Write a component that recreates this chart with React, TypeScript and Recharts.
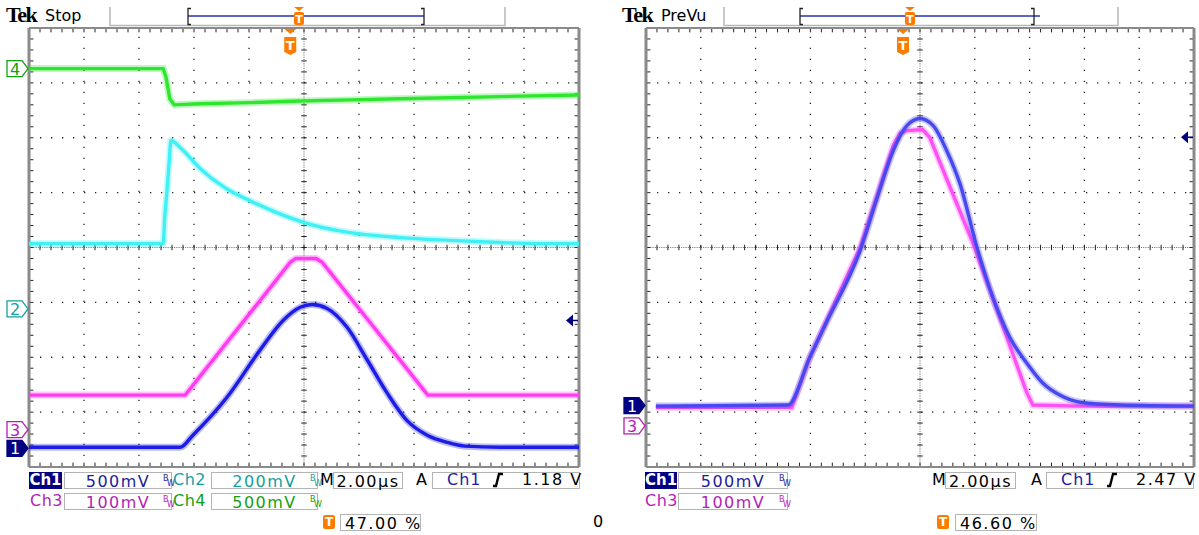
import React from "react";
import { LineChart, Line, XAxis, YAxis, ReferenceLine, ReferenceDot } from "recharts";

// all values in screen divisions: time 0..10 across, level -4..4 from centre line

// left screen (Tek Stop)
const leftCh4Time = [0, 2.44, 2.49, 2.56, 2.64, 3.11, 4.02, 4.93, 5.84, 6.75, 7.65, 8.56, 10];
const leftCh4Level = [3.26, 3.26, 3.11, 2.71, 2.6, 2.62, 2.64, 2.67, 2.69, 2.71, 2.73, 2.75, 2.78];

const leftCh2Time = [0, 2.44, 2.47, 2.51, 2.55, 2.58, 2.75, 3.11, 3.56, 4.02, 4.47, 5.02, 5.84, 6.75, 7.65, 8.56, 9.29, 10];
const leftCh2Level = [0.07, 0.07, 0.58, 1.04, 1.58, 1.95, 1.82, 1.44, 1.09, 0.85, 0.65, 0.45, 0.27, 0.18, 0.13, 0.09, 0.07, 0.07];

const leftCh3Time = [0, 2.84, 4.75, 4.85, 5.22, 5.33, 7.25, 10];
const leftCh3Level = [-2.69, -2.69, -0.27, -0.2, -0.2, -0.27, -2.69, -2.69];

const leftCh1Time = [0, 2.75, 2.98, 3.6, 4.2, 4.62, 4.93, 5.15, 5.42, 5.78, 6.15, 6.51, 6.87, 7.24, 7.6, 7.93, 8.56, 10];
const leftCh1Level = [-3.64, -3.64, -3.42, -2.73, -1.87, -1.33, -1.09, -1.04, -1.11, -1.45, -2.05, -2.65, -3.15, -3.42, -3.55, -3.62, -3.64, -3.64];

// right screen (Tek PreVu)
const rightCh1Time = [0.18, 2.59, 2.99, 3.3, 3.91, 4.22, 4.51, 4.76, 5.0, 5.24, 5.49, 5.73, 6.04, 6.33, 6.64, 6.95, 7.24, 7.55, 7.92, 8.65, 10];
const rightCh1Level = [-2.89, -2.87, -2.0, -1.35, -0.05, 0.91, 1.76, 2.22, 2.35, 2.22, 1.76, 1.16, 0.0, -0.91, -1.64, -2.11, -2.47, -2.69, -2.82, -2.87, -2.89];

const rightCh3Time = [0.18, 2.66, 2.99, 3.91, 4.51, 4.64, 4.76, 5.05, 5.18, 5.97, 6.95, 7.06, 7.92, 10];
const rightCh3Level = [-2.91, -2.91, -2.0, 0, 1.85, 2.09, 2.13, 2.15, 2.0, 0.07, -2.65, -2.87, -2.89, -2.89];

// ground markers, trigger level and trigger position
const leftTags = ["4", "2", "3", "1"];
const leftTagLevels = [3.26, -1.12, -3.32, -3.66];
const rightTags = ["1", "3"];
const rightTagLevels = [-2.88, -3.25];
const leftTrigLevel = -1.33;
const rightTrigLevel = 2.01;
const leftTrigPos = 4.75;
const rightTrigPos = 4.69;

const FONT = '"DejaVu Sans", Verdana, sans-serif';
const NAVY = "#000080";
const ORANGE = "#ff7b00";

const tagColor: Record<string, string> = { "1": NAVY, "2": "#14a0a0", "3": "#b41eb4", "4": "#14a014" };

const pairs = (t: number[], v: number[]) => t.map((x, i) => ({ t: x, v: v[i] }));

const majorX = [1, 2, 3, 4, 6, 7, 8, 9];
const majorY = [-3, -2, -1, 1, 2, 3];
const minorX = Array.from({ length: 49 }, (_, i) => +((i + 1) * 0.2).toFixed(1));
const minorY = Array.from({ length: 39 }, (_, i) => +(-4 + (i + 1) * 0.2).toFixed(1));

function graticule(id: string) {
  const out: React.ReactNode[] = [];
  majorX.forEach((x) =>
    out.push(<ReferenceLine key={`${id}gx${x}`} x={x} stroke="#222" strokeWidth={1.3} strokeDasharray="1.3 9.7" />)
  );
  majorY.forEach((y) =>
    out.push(<ReferenceLine key={`${id}gy${y}`} y={y} stroke="#222" strokeWidth={1.3} strokeDasharray="1.3 9.7" />)
  );
  out.push(<ReferenceLine key={`${id}cx`} x={5} stroke="#666" strokeDasharray="1 1.2" />);
  out.push(<ReferenceLine key={`${id}cy`} y={0} stroke="#666" strokeDasharray="1 1.2" />);
  minorX.forEach((x) => {
    out.push(<ReferenceLine key={`${id}tc${x}`} segment={[{ x, y: -0.05 }, { x, y: 0.05 }]} stroke="#222" />);
    out.push(<ReferenceLine key={`${id}tt${x}`} segment={[{ x, y: 4 }, { x, y: 3.92 }]} stroke="#222" />);
    out.push(<ReferenceLine key={`${id}tb${x}`} segment={[{ x, y: -4 }, { x, y: -3.92 }]} stroke="#222" />);
  });
  minorY.forEach((y) => {
    out.push(<ReferenceLine key={`${id}uc${y}`} segment={[{ x: 4.95, y }, { x: 5.05, y }]} stroke="#222" />);
    out.push(<ReferenceLine key={`${id}ul${y}`} segment={[{ x: 0, y }, { x: 0.08, y }]} stroke="#222" />);
    out.push(<ReferenceLine key={`${id}ur${y}`} segment={[{ x: 10, y }, { x: 9.92, y }]} stroke="#222" />);
  });
  out.push(<ReferenceLine key={`${id}b0`} x={0} stroke="#8a8a8a" strokeWidth={3} />);
  out.push(<ReferenceLine key={`${id}b1`} x={10} stroke="#8a8a8a" strokeWidth={3} />);
  out.push(<ReferenceLine key={`${id}b2`} y={4} stroke="#8a8a8a" strokeWidth={2} />);
  out.push(<ReferenceLine key={`${id}b3`} y={-4} stroke="#8a8a8a" strokeWidth={2} />);
  return out;
}

function trace(id: string, t: number[], v: number[], color: string, curve: "linear" | "monotone") {
  const data = pairs(t, v);
  return [
    <Line key={`${id}a`} data={data} dataKey="v" type={curve} stroke={color} strokeWidth={7}
      strokeOpacity={0.3} dot={false} activeDot={false} isAnimationActive={false} />,
    <Line key={`${id}b`} data={data} dataKey="v" type={curve} stroke={color} strokeWidth={3.4}
      dot={false} activeDot={false} isAnimationActive={false} />,
  ];
}

const ChannelTag = ({ cx, cy, label }: { cx: number; cy: number; label: string }) => {
  const c = tagColor[label];
  const filled = label === "1";
  return (
    <g>
      <polygon
        points={`${cx - 22},${cy - 8} ${cx - 7},${cy - 8} ${cx - 1},${cy} ${cx - 7},${cy + 8} ${cx - 22},${cy + 8}`}
        fill={filled ? c : "#fff"} stroke={c} strokeWidth={1.3} />
      <text x={cx - 14} y={cy + 6} textAnchor="middle" fontFamily={FONT} fontSize={16} fill={filled ? "#fff" : c}>
        {label}
      </text>
    </g>
  );
};

const TrigArrow = ({ cx, cy }: { cx: number; cy: number }) => (
  <g>
    <line x1={cx - 8} y1={cy} x2={cx - 1} y2={cy} stroke={NAVY} strokeWidth={1.5} />
    <polygon points={`${cx - 13},${cy} ${cx - 6},${cy - 6} ${cx - 6},${cy + 6}`} fill={NAVY} />
  </g>
);

const TrigMark = ({ cx, cy }: { cx: number; cy: number }) => (
  <g>
    <polygon points={`${cx - 6},${cy + 1} ${cx + 6},${cy + 1} ${cx},${cy + 6}`} fill={ORANGE} />
    <path d={`M${cx - 6},${cy + 9} H${cx + 6} V${cy + 24} L${cx},${cy + 27} L${cx - 6},${cy + 24} Z`} fill={ORANGE} />
    <text x={cx} y={cy + 22} textAnchor="middle" fontFamily={FONT} fontWeight="bold" fontSize={13} fill="#fff">T</text>
  </g>
);

function Screen(props: {
  id: string;
  width: number;
  left: number;
  right: number;
  tags: string[];
  levels: number[];
  trigLevel: number;
  trigPos: number;
  children: React.ReactNode;
}) {
  return (
    <LineChart width={props.width} height={470} margin={{ top: 28, left: props.left, right: props.right, bottom: 3 }}>
      <XAxis type="number" dataKey="t" domain={[0, 10]} hide allowDataOverflow />
      <YAxis type="number" domain={[-4, 4]} hide allowDataOverflow />
      {graticule(props.id)}
      {props.children}
      {props.tags.map((tag, i) => (
        <ReferenceDot key={`tag${tag}`} x={0} y={props.levels[i]} r={0} ifOverflow="visible"
          shape={(p: any) => <ChannelTag cx={p.cx} cy={p.cy} label={tag} />} />
      ))}
      <ReferenceDot x={10} y={props.trigLevel} r={0} ifOverflow="visible"
        shape={(p: any) => <TrigArrow cx={p.cx} cy={p.cy} />} />
      <ReferenceDot x={props.trigPos} y={4} r={0} ifOverflow="visible"
        shape={(p: any) => <TrigMark cx={p.cx} cy={p.cy} />} />
    </LineChart>
  );
}

const txt = (left: number, top: number, color: string, s: string, extra: React.CSSProperties = {}) => (
  <div style={{ position: "absolute", left, top, height: 18, lineHeight: "18px", fontSize: 16, color, whiteSpace: "nowrap", ...extra }}>
    {s}
  </div>
);

const box = (left: number, top: number, width: number, color: string, s: string, align: "center" | "left" = "center") => (
  <div style={{
    position: "absolute", left, top, width, height: 17, border: "1px solid #b4b4b4", lineHeight: "17px",
    fontSize: 16, color, textAlign: align, letterSpacing: 1.5, paddingLeft: align === "left" ? 4 : 0,
    boxSizing: "border-box", whiteSpace: "nowrap",
  }}>
    {s}
  </div>
);

const bw = (left: number, top: number, color: string) => (
  <div style={{ position: "absolute", left, top, width: 10, height: 16, color, fontSize: 8 }}>
    <span style={{ position: "absolute", left: 0, top: 1 }}>B</span>
    <span style={{ position: "absolute", left: 4, top: 6 }}>W</span>
  </div>
);

const slope = (left: number, top: number) => (
  <svg style={{ position: "absolute", left, top }} width={12} height={16}>
    <path d="M1,14 H4 L7,2 H11" stroke="#000" strokeWidth={2.4} fill="none" />
  </svg>
);

const tIcon = (left: number, top: number) => (
  <div style={{ position: "absolute", left, top, width: 12, height: 14, background: ORANGE, borderRadius: 2,
    color: "#fff", fontSize: 12, fontWeight: "bold", textAlign: "center", lineHeight: "14px" }}>T</div>
);

function Header(props: { x: number; label: string; lineFrom: number; lineTo: number; bFrom: number; bTo: number; bLineTo: number; mark: number }) {
  const { x, label, lineFrom, lineTo, bFrom, bTo, bLineTo, mark } = props;
  return (
    <g>
      <text x={x} y={22} fontFamily='"Liberation Serif", serif' fontWeight="bold" fontSize={22} letterSpacing={-1.5}>Tek</text>
      <text x={x + 39} y={21} fontFamily={FONT} fontSize={16}>{label}</text>
      <path d={`M${lineFrom},7 V25.5 H${lineTo} V7`} stroke="#b8b8b8" strokeWidth={1.5} fill="none" />
      <line x1={bFrom} y1={16} x2={bLineTo} y2={16} stroke="#2a30a8" strokeWidth={1.5} />
      <path d={`M${bFrom + 3},8.5 H${bFrom} V24.5 H${bFrom + 3}`} stroke="#222" strokeWidth={1.3} fill="none" />
      <path d={`M${bTo - 3},8.5 H${bTo} V24.5 H${bTo - 3}`} stroke="#222" strokeWidth={1.3} fill="none" />
      <polygon points={`${mark - 5},7 ${mark + 5},7 ${mark},11`} fill={ORANGE} />
      <rect x={mark - 5} y={12} width={10} height={13} rx={2} fill={ORANGE} />
      <text x={mark} y={23} textAnchor="middle" fontFamily={FONT} fontWeight="bold" fontSize={11} fill="#fff">T</text>
    </g>
  );
}

export default function App() {
  const magenta = "#b41eb4";
  const teal = "#14a0a0";
  const green = "#14a014";
  const blue = "#1c1c9c";
  return (
    <div style={{ position: "fixed", left: 0, top: 0, width: 1199, height: 535, background: "#fff", overflow: "hidden", fontFamily: FONT }}>
      <div style={{ position: "absolute", left: 0, top: 0 }}>
        <Screen id="L" width={600} left={29} right={21} tags={leftTags} levels={leftTagLevels}
          trigLevel={leftTrigLevel} trigPos={leftTrigPos}>
          {trace("l4", leftCh4Time, leftCh4Level, "#2ee62e", "linear")}
          {trace("l2", leftCh2Time, leftCh2Level, "#3ff0f5", "monotone")}
          {trace("l3", leftCh3Time, leftCh3Level, "#ff3cf2", "linear")}
          {trace("l1", leftCh1Time, leftCh1Level, "#1c1ce6", "monotone")}
        </Screen>
      </div>
      <div style={{ position: "absolute", left: 600, top: 0 }}>
        <Screen id="R" width={599} left={46} right={5} tags={rightTags} levels={rightTagLevels}
          trigLevel={rightTrigLevel} trigPos={rightTrigPos}>
          {trace("r3", rightCh3Time, rightCh3Level, "#ff50f5", "linear")}
          {trace("r1", rightCh1Time, rightCh1Level, "#4848f0", "monotone")}
        </Screen>
      </div>

      <svg style={{ position: "absolute", left: 0, top: 0 }} width={1199} height={27}>
        <Header x={6} label="Stop" lineFrom={110} lineTo={505} bFrom={188} bTo={424} bLineTo={424} mark={299} />
        <Header x={622} label="PreVu" lineFrom={724} lineTo={1118} bFrom={800} bTo={1034} bLineTo={1040} mark={910} />
      </svg>

      {/* left readouts */}
      <div style={{ position: "absolute", left: 29, top: 472, width: 33, height: 17, background: NAVY, color: "#fff",
        fontWeight: "bold", fontSize: 15, lineHeight: "17px", textAlign: "center" }}>Ch1</div>
      {box(64, 472, 108, blue, "500mV")}
      {bw(163, 473, blue)}
      {txt(173, 471, teal, "Ch2", { letterSpacing: 0.5 })}
      {box(211, 472, 107, teal, "200mV")}
      {bw(310, 473, teal)}
      {txt(320, 471, "#000", "M")}
      {box(333, 472, 70, "#000", "2.00µs")}
      {txt(416, 471, "#000", "A")}
      {box(432, 472, 148, blue, "")}
      {txt(447, 471, blue, "Ch1", { letterSpacing: 1 })}
      {slope(492, 472)}
      {txt(522, 471, "#000", "1.18 V", { letterSpacing: 1.5 })}

      {txt(30, 492, magenta, "Ch3", { letterSpacing: 0.5 })}
      {box(64, 493, 108, magenta, "100mV")}
      {bw(163, 494, magenta)}
      {txt(173, 492, green, "Ch4", { letterSpacing: 0.5 })}
      {box(211, 493, 107, green, "500mV")}
      {bw(310, 494, green)}

      {tIcon(323, 515)}
      {box(340, 514, 81, "#000", "47.00 %", "left")}
      {txt(593, 513, "#000", "0")}

      {/* right readouts */}
      <div style={{ position: "absolute", left: 645, top: 472, width: 32, height: 17, background: NAVY, color: "#fff",
        fontWeight: "bold", fontSize: 15, lineHeight: "17px", textAlign: "center" }}>Ch1</div>
      {box(678, 472, 110, blue, "500mV")}
      {bw(779, 473, blue)}
      {txt(932, 471, "#000", "M")}
      {box(945, 472, 71, "#000", "2.00µs")}
      {txt(1031, 471, "#000", "A")}
      {box(1046, 472, 148, blue, "")}
      {txt(1061, 471, blue, "Ch1", { letterSpacing: 1 })}
      {slope(1106, 472)}
      {txt(1136, 471, "#000", "2.47 V", { letterSpacing: 1.5 })}

      {txt(645, 492, magenta, "Ch3", { letterSpacing: 0.5 })}
      {box(678, 493, 110, magenta, "100mV")}
      {bw(779, 494, magenta)}

      {tIcon(937, 515)}
      {box(955, 514, 82, "#000", "46.60 %", "left")}
    </div>
  );
}
